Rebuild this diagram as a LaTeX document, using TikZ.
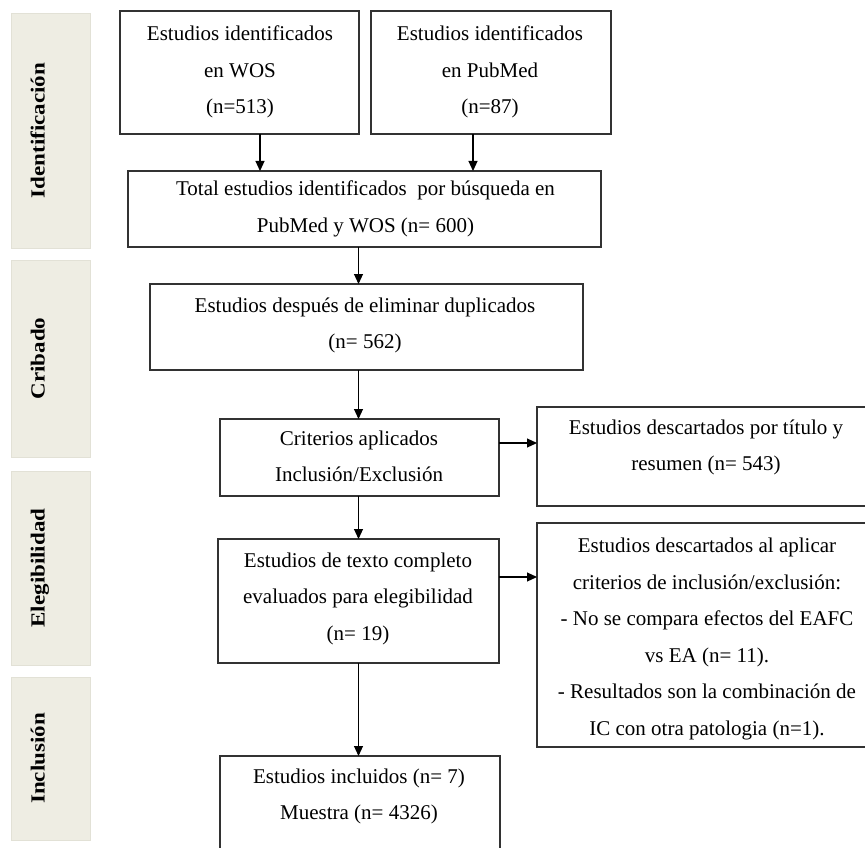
\documentclass[tikz,border=0pt]{standalone}
\usepackage{fontspec}
\setmainfont{Liberation Serif}
\newfontfamily\lblfont[FakeStretch=1.15]{Liberation Serif}
\usetikzlibrary{arrows.meta}
\definecolor{bandfill}{RGB}{238,237,227}
\definecolor{bandedge}{RGB}{226,225,214}
\definecolor{boxline}{RGB}{50,50,50}
\begin{document}
\begin{tikzpicture}[x=1pt,y=-1pt,
  box/.style={draw=boxline,line width=1.4pt,inner sep=0pt,outer sep=0pt},
  bandbox/.style={fill=bandfill,draw=bandedge,line width=0.8pt},
  txt/.style={font=\fontsize{21}{36.5}\selectfont,align=center,inner sep=0pt},
  lbl/.style={font=\lblfont\bfseries\fontsize{20}{24}\selectfont,rotate=90,anchor=base,inner sep=0pt},
  arr/.style={line width=1.1pt,-{Triangle[length=10pt,width=9pt]}}]
\fill[white] (0,0) rectangle (865,848);
\clip (0,0) rectangle (865,848);
% phase bands
\path[bandbox] (11,13) rectangle (90,248);
\path[bandbox] (11,260) rectangle (90,457);
\path[bandbox] (11,471) rectangle (90,665);
\path[bandbox] (11,677) rectangle (90,840);
\node[lbl] (l1) at (44.5,130.5) {Identificación};
\node[lbl] (l2) at (44.5,358.5) {Cribado};
\node[lbl] (l3) at (44.5,568) {Elegibilidad};
\node[lbl] (l4) at (44.5,758.5) {Inclusión};
% boxes
\node[box,minimum width=239,minimum height=123] (wos) at (239.5,72.5) {};
\node[box,minimum width=240,minimum height=123] (pub) at (491,72.5) {};
\node[box,minimum width=473,minimum height=76] (total) at (364.5,209) {};
\node[box,minimum width=433,minimum height=86] (desp) at (366.5,327) {};
\node[box,minimum width=279,minimum height=77] (crit) at (359.5,457.5) {};
\node[box,minimum width=281,minimum height=124] (texto) at (358.5,601) {};
\node[box,minimum width=280,minimum height=114] (incl) at (360,813) {};
\node[box,minimum width=338,minimum height=99] (desc1) at (706,456.5) {};
\node[box,minimum width=338,minimum height=224] (desc2) at (706,635) {};
% texts
\node[txt] (wost) at (240,70.2) {\strut Estudios identificados\\\strut en WOS\\\strut (n=513)};
\node[txt] (pubt) at (490,70.2) {\strut Estudios identificados\\\strut en PubMed\\\strut (n=87)};
\node[txt] (totalt) at (365.5,206.7) {\strut Total estudios identificados\ \ por búsqueda en\\\strut PubMed y WOS (n= 600)};
\node[txt] (despt) at (365,323.2) {\strut Estudios después de eliminar duplicados\\\strut (n= 562)};
\node[txt] (critt) at (359,456.2) {\strut Criterios aplicados\\\strut Inclusión/Exclusión};
\node[txt] (textot) at (358,596.2) {\strut Estudios de texto completo\\\strut evaluados para elegibilidad\\\strut (n= 19)};
\node[txt] (inclt) at (359,794.2) {\strut Estudios incluidos (n= 7)\\\strut Muestra (n= 4326)};
\node[txt] (desc1t) at (706,445.2) {\strut Estudios descartados por título y\\\strut resumen (n= 543)};
\node[txt] (desc2t) at (707,636.7) {\strut Estudios descartados al aplicar\\\strut criterios de inclusión/exclusión:\\\strut - No se compara efectos del EAFC\\\strut vs EA (n= 11).\\\strut - Resultados son la combinación de\\\strut IC con otra patologia (n=1).};
% connectors
\draw[arr] ([xshift=20.5pt]wos.south) -- ([xshift=20.5pt]wos.south |- total.north);
\draw[arr] ([xshift=-18pt]pub.south) -- ([xshift=-18pt]pub.south |- total.north);
\draw[arr] (total.south -| texto.north) -- (desp.north -| texto.north);
\draw[arr] (desp.south -| texto.north) -- (crit.north -| texto.north);
\draw[arr] (crit.south -| texto.north) -- (texto.north);
\draw[arr] (texto.south) -- (incl.north -| texto.south);
\draw[arr] ([yshift=14.5pt]crit.east) -- ([yshift=14.5pt]crit.east -| desc1.west);
\draw[arr] ([yshift=24pt]texto.east) -- ([yshift=24pt]texto.east -| desc2.west);
\end{tikzpicture}
\end{document}
